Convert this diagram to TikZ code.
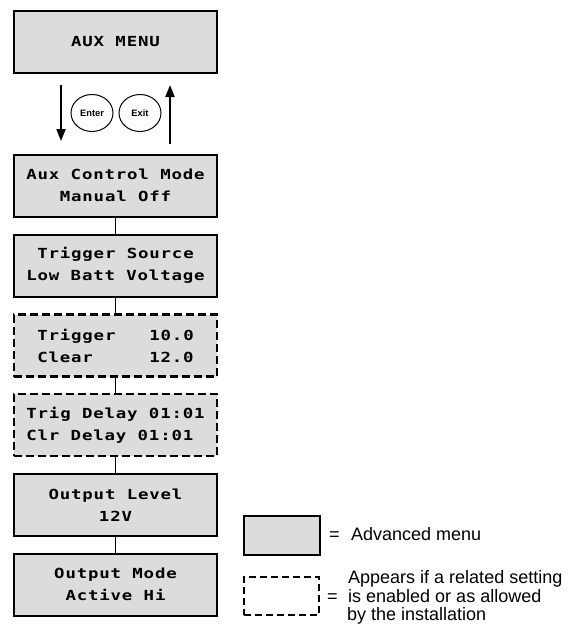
\documentclass[tikz,border=0pt]{standalone}
\usepackage{fontspec}
\setmainfont{Liberation Sans}
\newfontfamily\lcd[FakeStretch=1.25,LetterSpace=6]{DejaVu Sans Mono}
\usetikzlibrary{arrows.meta,shapes.geometric}
\definecolor{boxgray}{RGB}{220,220,220}
\tikzset{
  menubox/.style={draw, line width=2pt, fill=boxgray, minimum width=203pt,
    minimum height=62pt, inner sep=0pt, align=center,
    font=\lcd\bfseries\fontsize{13.9}{22}\selectfont},
  optbox/.style={menubox, line width=2.3pt, dash pattern=on 8pt off 4pt},
  optboxl/.style={menubox, line width=2.3pt, dash pattern=on 8pt off 4pt, align=left},
  link/.style={line width=0.9pt},
  navarrow/.style={line width=2pt, -{Triangle[width=9pt,length=12pt]}},
  keybtn/.style={draw, ellipse, line width=1pt, minimum width=42pt, minimum height=37pt,
    inner sep=0pt, font=\bfseries\fontsize{9.3}{11}\selectfont},
  legtext/.style={anchor=base west, inner sep=0pt, font=\fontsize{18}{19}\selectfont}
}
\begin{document}
\begin{tikzpicture}[x=1pt,y=-1pt]
\useasboundingbox (0,0) rectangle (569,626);
\node[menubox] (aux) at (115.5,42) {AUX MENU};
\node[menubox] (acm) at (115.5,185.5) {Aux Control Mode\\Manual Off};
\node[menubox] (ts) at (115.5,265.5) {Trigger Source\\Low Batt Voltage};
\node[optbox] (d1) at (115.5,345.5) {Trigger\ \ \ 10.0\\Clear\ \ \ \ \ 12.0};
\node[optboxl] (d2) at (115.5,425) {Trig Delay 01:01\\Clr Delay 01:01};
\node[menubox] (ol) at (115.5,505) {Output Level\\12V};
\node[menubox] (om) at (115.5,584.5) {Output Mode\\Active Hi};
\draw[link] (acm) -- (ts);
\draw[link] (ts) -- (d1);
\draw[link] (d1) -- (d2);
\draw[link] (d2) -- (ol);
\draw[link] (ol) -- (om);
\node[keybtn] (enter) at (92,113) {Enter};
\node[keybtn] (exit) at (140,113) {Exit};
\coordinate (dtop) at (61,85);
\coordinate (dbot) at (61,141);
\coordinate (ubot) at (170,144);
\coordinate (utop) at (170,85);
\draw[navarrow] (dtop) -- (dbot);
\draw[navarrow] (ubot) -- (utop);
% legend
\node[draw, line width=2pt, fill=boxgray, minimum width=76pt, minimum height=39pt] (legsolid) at (282,535.5) {};
\node[draw, line width=2.3pt, dash pattern=on 7pt off 4pt, minimum width=75pt, minimum height=38pt] (legdash) at (281.5,596) {};
\node[legtext] (eq1) at (329,540) {=};
\node[legtext] (adv) at (351,540) {Advanced menu};
\node[legtext] (eq2) at (327,602) {=};
\node[legtext] (l1) at (348,583) {Appears if a related setting};
\node[legtext] (l2) at (348,602) {is enabled or as allowed};
\node[legtext] (l3) at (347,620) {by the installation};
\end{tikzpicture}
\end{document}
